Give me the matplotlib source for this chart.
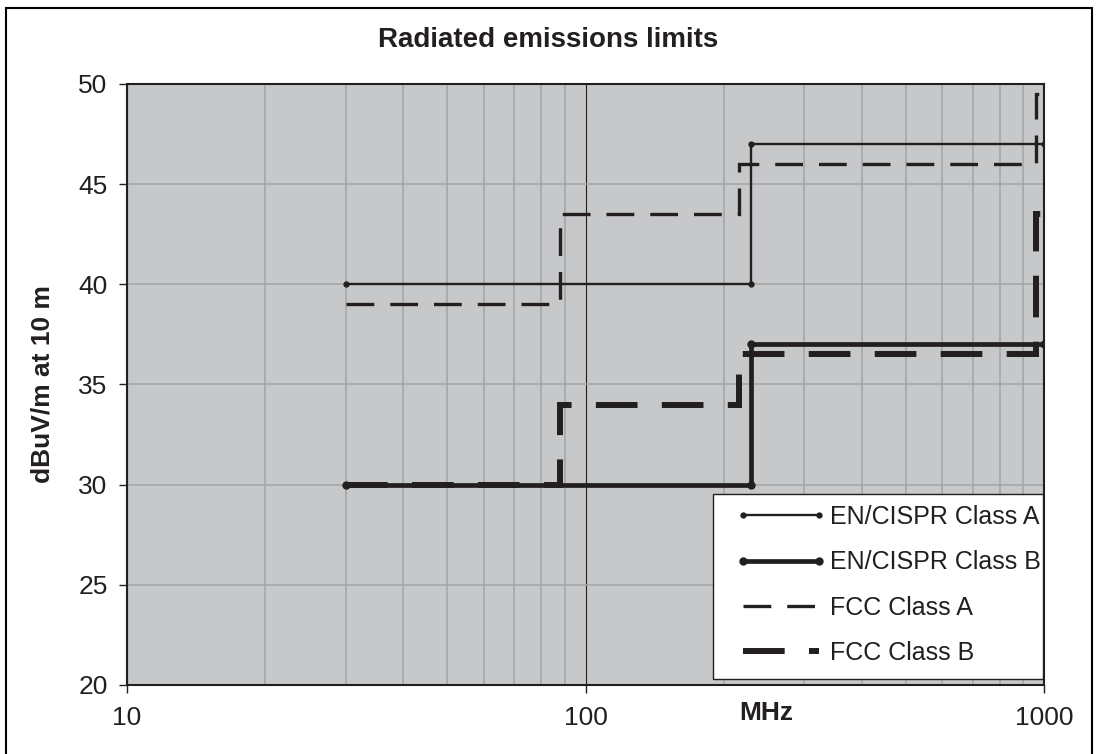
import matplotlib
matplotlib.use('Agg')
import matplotlib.pyplot as plt
from matplotlib.lines import Line2D
from matplotlib.legend_handler import HandlerLine2D
from matplotlib.patches import Rectangle, Shadow
from matplotlib.ticker import LogLocator, NullFormatter

plt.rcParams['font.family'] = ['Liberation Sans', 'DejaVu Sans']
plt.rcParams['lines.scale_dashes'] = False

# limit lines (corner points of each step curve), MHz / dBuV/m at 10 m
en_a_freq = [30, 230, 230, 1000]
en_a_level = [40, 40, 47, 47]
en_b_freq = [30, 230, 230, 1000]
en_b_level = [30, 30, 37, 37]
fcc_a_freq = [30, 88, 88, 216, 216, 960, 960, 1000]
fcc_a_level = [39, 39, 43.5, 43.5, 46, 46, 49.5, 49.5]
fcc_b_freq = [30, 88, 88, 216, 216, 960, 960, 1000]
fcc_b_level = [30, 30, 34, 34, 36.5, 36.5, 43.5, 43.5]

labels = ['EN/CISPR Class A', 'EN/CISPR Class B', 'FCC Class A', 'FCC Class B']
x_ticks = [10, 100, 1000]
y_ticks = [20, 25, 30, 35, 40, 45, 50]

ink = '#231f20'
W, H = 1096, 754

fig = plt.figure(figsize=(W / 100, H / 100), dpi=100)
ax = fig.add_axes([127 / W, 1 - 685 / H, 917 / W, 601 / H])
ax.set_facecolor('#c7c8ca')

style = dict(color=ink, solid_joinstyle='miter', dash_joinstyle='miter')
ax.plot(en_a_freq, en_a_level, lw=1.7, marker='o', ms=3.5, label=labels[0], **style)
ax.plot(en_b_freq, en_b_level, lw=3.4, marker='o', ms=5, label=labels[1], **style)
ax.plot(fcc_a_freq, fcc_a_level, lw=2.4, dashes=(20, 11.5), label=labels[2], **style)
ax.plot(fcc_b_freq, fcc_b_level, lw=4.3, dashes=(30, 17.5), label=labels[3], **style)

ax.set_xscale('log')
ax.set_xlim(10, 1000)
ax.set_ylim(20, 50)
ax.set_xticks(x_ticks)
ax.set_xticklabels([str(t) for t in x_ticks])
ax.xaxis.set_minor_locator(LogLocator(base=10, subs=range(2, 10)))
ax.xaxis.set_minor_formatter(NullFormatter())
ax.set_yticks(y_ticks)

ax.set_axisbelow(True)
ax.grid(which='minor', axis='x', color='#a3a4a6', lw=1.1)
ax.grid(which='major', axis='y', color='#a3a4a6', lw=1.1)
ax.grid(which='major', axis='x', color=ink, lw=0.8)

for s in ax.spines.values():
    s.set_color(ink)
    s.set_linewidth(1.5)

ax.tick_params(which='major', direction='out', length=6, width=1, color=ink,
               labelsize=19, labelcolor=ink)
ax.tick_params(axis='x', pad=9)
ax.tick_params(axis='y', pad=8)
ax.tick_params(which='minor', length=0)

ax.set_xlabel('MHz', fontsize=19, fontweight='bold', color=ink)
ax.xaxis.set_label_coords(0.697, -0.027)
ax.set_ylabel('dBuV/m at 10 m', fontsize=19, fontweight='bold', color=ink)
ax.yaxis.set_label_coords(-0.079, 0.5)
fig.suptitle('Radiated emissions limits', x=0.5, y=1 - 40 / H, va='center',
             fontsize=20, fontweight='bold', color=ink)

# legend box drawn separately so the text can sit close to its right edge
box = Rectangle((0.639, 0.01), 0.36, 0.308, transform=ax.transAxes,
                facecolor='white', edgecolor=ink, lw=1.0, zorder=4.9, clip_on=False)
shadow = Shadow(box, 1.5, -1.5, facecolor='#8a8a8a', edgecolor='#8a8a8a', alpha=1,
                zorder=4.8)
shadow.set_clip_on(False)
ax.add_patch(shadow)
ax.add_patch(box)

leg = ax.legend(loc='upper left', bbox_to_anchor=(0.6718, 0.2995), borderaxespad=0,
                fontsize=18, frameon=False,
                handler_map={Line2D: HandlerLine2D(marker_pad=0, numpoints=2)},
                handlelength=3.04, handletextpad=0.44, labelspacing=0.85,
                borderpad=0)
for t in leg.get_texts():
    t.set_color(ink)

# outer chart border (bottom edge runs off the picture)
fig.add_artist(Rectangle((6 / W, -10 / H), 1086 / W, 756 / H, transform=fig.transFigure,
                         fill=False, edgecolor='black', lw=1.5))

fig.savefig('out.png', dpi=100)
